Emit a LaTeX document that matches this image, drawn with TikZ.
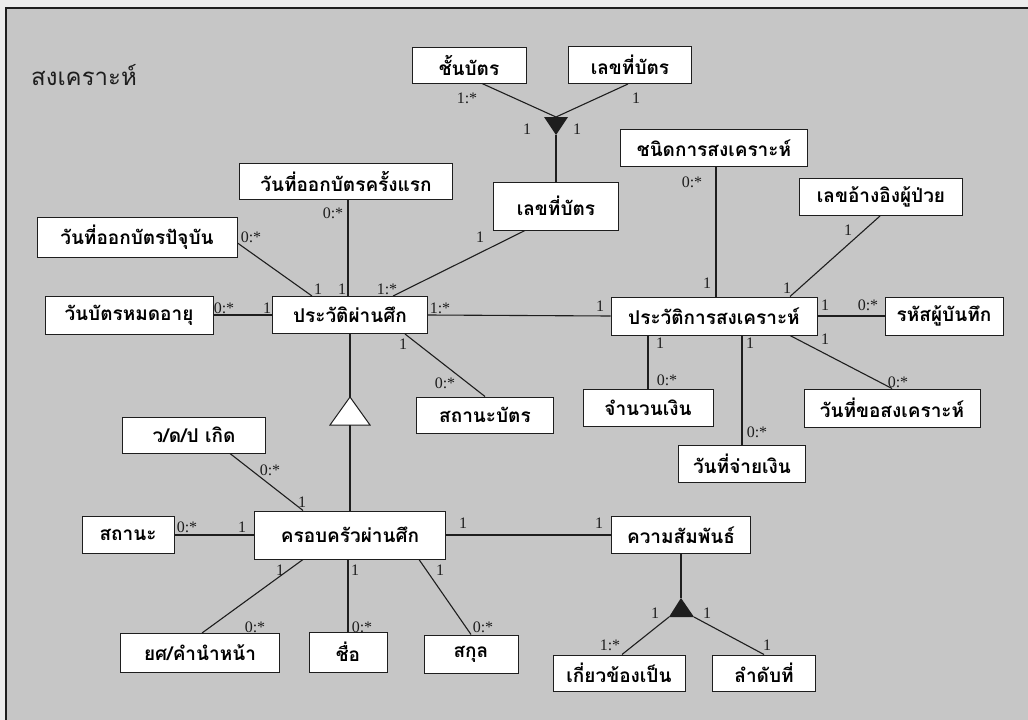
\documentclass[tikz,border=0pt]{standalone}
\usepackage{fontspec}
\setmainfont{Liberation Serif}
\newfontfamily\thaifont[Script=Thai]{Loma}
\usetikzlibrary{calc}
\definecolor{paper}{RGB}{198,198,198}
\definecolor{margin}{RGB}{236,236,236}
\definecolor{ink}{RGB}{30,30,30}
\begin{document}
\begin{tikzpicture}[x=1pt,y=-1pt,
  box/.style={draw=ink, line width=1pt, fill=white, inner sep=0pt,
    font=\thaifont\bfseries\fontsize{19}{21}\selectfont},
  link/.style={draw=ink, line width=1.1pt},
  mult/.style={font=\fontsize{16}{18}\selectfont, inner sep=0pt, text=ink},
  title/.style={font=\thaifont\fontsize{24}{28}\selectfont, inner sep=0pt, text=ink}
]
% page and frame
\fill[margin] (0,0) rectangle (1028,720);
\useasboundingbox (0,0) rectangle (1028,720);
\fill[paper] (6,8) rectangle (1028,720);
\draw[ink, line width=2pt] (6,720) -- (6,8) -- (1028,8);

\node[title] (ttl) at (84,75) {สงเคราะห์};

% entity boxes
\node[box, minimum width=114pt, minimum height=36pt] (chanbat) at (469,65) {ชั้นบัตร};
\node[box, minimum width=123pt, minimum height=37pt] (lekbat1) at (630,65) {เลขที่บัตร};
\node[box, minimum width=125pt, minimum height=48pt] (lekbat2) at (556,206) {เลขที่บัตร};
\node[box, minimum width=187pt, minimum height=37pt] (chanid) at (714,148) {ชนิดการสงเคราะห์};
\node[box, minimum width=163pt, minimum height=37pt] (lekref) at (881,197) {เลขอ้างอิงผู้ป่วย};
\node[box, minimum width=213pt, minimum height=36pt] (wanraek) at (346,181) {วันที่ออกบัตรครั้งแรก};
\node[box, minimum width=200pt, minimum height=40pt] (wanpat) at (137,237) {วันที่ออกบัตรปัจุบัน};
\node[box, minimum width=168pt, minimum height=38pt] (wanmod) at (129,315) {วันบัตรหมดอายุ};
\node[box, minimum width=155pt, minimum height=37pt] (prawat) at (350,315) {ประวัติผ่านศึก};
\node[box, minimum width=137pt, minimum height=36pt] (sathanabat) at (485,415) {สถานะบัตร};
\node[box, minimum width=206pt, minimum height=38pt] (prawatsong) at (714,316) {ประวัติการสงเคราะห์};
\node[box, minimum width=118pt, minimum height=38pt] (rahat) at (944,316) {รหัสผู้บันทึก};
\node[box, minimum width=130pt, minimum height=37pt] (jamnuan) at (648,408) {จำนวนเงิน};
\node[box, minimum width=176pt, minimum height=38pt] (wankho) at (892,408) {วันที่ขอสงเคราะห์};
\node[box, minimum width=127pt, minimum height=37pt] (wanjai) at (742,464) {วันที่จ่ายเงิน};
\node[box, minimum width=139pt, minimum height=37pt] (khwam) at (681,535) {ความสัมพันธ์};
\node[box, minimum width=132pt, minimum height=36pt] (kiew) at (619,673) {เกี่ยวข้องเป็น};
\node[box, minimum width=103pt, minimum height=36pt] (lamdap) at (764,673) {ลำดับที่};
\node[box, minimum width=143pt, minimum height=36pt] (wdp) at (194,435) {ว/ด/ป เกิด};
\node[box, minimum width=92pt, minimum height=37pt] (sathana) at (128,535) {สถานะ};
\node[box, minimum width=191pt, minimum height=48pt] (khrob) at (350,535) {ครอบครัวผ่านศึก};
\node[box, minimum width=159pt, minimum height=39pt] (yot) at (200,653) {ยศ/คำนำหน้า};
\node[box, minimum width=78pt, minimum height=40pt] (chue) at (348,652) {ชื่อ};
\node[box, minimum width=94pt, minimum height=38pt] (sakul) at (471,654) {สกุล};

% aggregation and generalisation markers
\coordinate (t1) at (556,117);
\coordinate (t1tip) at (556,135);
\fill[ink] ($(t1)+(-12,0)$) -- ($(t1)+(12,0)$) -- (t1tip) -- cycle;
\coordinate (t2tip) at (350,397);
\coordinate (t2) at (350,425);
\draw[ink, line width=1pt, fill=white] (t2tip) -- ($(t2)+(20,0)$) -- ($(t2)+(-20,0)$) -- cycle;
\coordinate (t3tip) at (681,598);
\coordinate (t3l) at (669,617);
\coordinate (t3r) at (694,617);
\fill[ink] (t3tip) -- (t3r) -- (t3l) -- cycle;

% card class aggregation
\draw[link] ([xshift=13pt]chanbat.south) -- (t1);
\draw[link] ([xshift=-2pt]lekbat1.south) -- (t1);
\draw[link] (t1tip) -- (lekbat2.north);
\node[mult] (m1) at (467,98) {1:*};
\node[mult] (m2) at (636,98) {1};
\node[mult] (m3) at (527,129) {1};
\node[mult] (m4) at (577,129) {1};

% veteran history attributes
\draw[link] ([xshift=2pt]wanraek.south) -- ([xshift=-2pt]prawat.north);
\node[mult] (m5) at (333,213) {0:*};
\node[mult] (m6) at (342,289) {1};
\draw[link] ([yshift=-6pt]wanpat.east) -- ([xshift=-38pt]prawat.north);
\node[mult] (m7) at (251,237) {0:*};
\node[mult] (m8) at (318,289) {1};
\draw[link] (wanmod.east) -- (prawat.west);
\node[mult] (m9) at (224,308) {0:*};
\node[mult] (m10) at (267,308) {1};
\draw[link] ([xshift=-31pt]lekbat2.south) -- ([xshift=43pt]prawat.north);
\node[mult] (m11) at (480,237) {1};
\node[mult] (m12) at (387,289) {1:*};
\draw[link] (prawat.east) -- (prawatsong.west);
\node[mult] (m13) at (440,308) {1:*};
\node[mult] (m14) at (600,306) {1};
\draw[link] ([xshift=55pt]prawat.south) -- (sathanabat.north);
\node[mult] (m15) at (403,344) {1};
\node[mult] (m16) at (445,383) {0:*};

% welfare history attributes
\draw[link] ([xshift=2pt]chanid.south) -- ([xshift=2pt]prawatsong.north);
\node[mult] (m17) at (692,182) {0:*};
\node[mult] (m18) at (707,283) {1};
\draw[link] ([xshift=-1pt]lekref.south) -- ([xshift=76pt]prawatsong.north);
\node[mult] (m19) at (848,230) {1};
\node[mult] (m20) at (787,288) {1};
\draw[link] (prawatsong.east) -- (rahat.west);
\node[mult] (m21) at (825,305) {1};
\node[mult] (m22) at (868,305) {0:*};
\draw[link] ([xshift=-66pt]prawatsong.south) -- (jamnuan.north);
\node[mult] (m23) at (660,343) {1};
\node[mult] (m24) at (667,380) {0:*};
\draw[link] ([xshift=28pt]prawatsong.south) -- (wanjai.north);
\node[mult] (m25) at (750,343) {1};
\node[mult] (m26) at (757,432) {0:*};
\draw[link] ([xshift=76pt]prawatsong.south) -- (wankho.north);
\node[mult] (m27) at (825,339) {1};
\node[mult] (m28) at (898,382) {0:*};

% generalisation to family
\draw[link] (prawat.south) -- (t2tip);
\draw[link] (t2) -- (khrob.north);

% family attributes
\draw[link] ([xshift=36pt]wdp.south) -- ([xshift=-47pt]khrob.north);
\node[mult] (m29) at (270,470) {0:*};
\node[mult] (m30) at (302,502) {1};
\draw[link] (sathana.east) -- (khrob.west);
\node[mult] (m31) at (187,527) {0:*};
\node[mult] (m32) at (242,527) {1};
\draw[link] ([xshift=-47pt]khrob.south) -- ([xshift=2pt]yot.north);
\node[mult] (m33) at (280,570) {1};
\node[mult] (m34) at (255,627) {0:*};
\draw[link] ([xshift=-2pt]khrob.south) -- (chue.north);
\node[mult] (m35) at (355,570) {1};
\node[mult] (m36) at (362,627) {0:*};
\draw[link] ([xshift=69pt]khrob.south) -- (sakul.north);
\node[mult] (m37) at (440,570) {1};
\node[mult] (m38) at (483,627) {0:*};
\draw[link] (khrob.east) -- (khwam.west);
\node[mult] (m39) at (463,523) {1};
\node[mult] (m40) at (599,523) {1};

% relationship aggregation
\draw[link] (khwam.south) -- (t3tip);
\draw[link] (t3l) -- ([xshift=3pt]kiew.north);
\draw[link] (t3r) -- (lamdap.north);
\node[mult] (m41) at (655,613) {1};
\node[mult] (m42) at (707,613) {1};
\node[mult] (m43) at (610,645) {1:*};
\node[mult] (m44) at (767,645) {1};
\end{tikzpicture}
\end{document}
